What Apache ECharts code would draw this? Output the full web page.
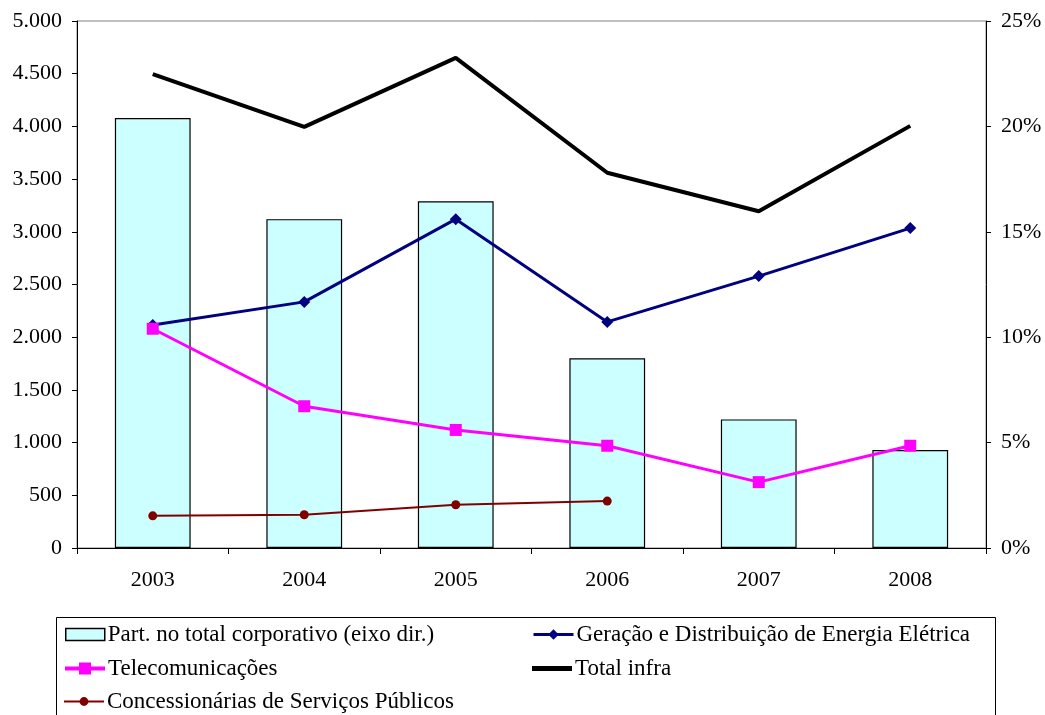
<!DOCTYPE html>
<html>
<head>
<meta charset="utf-8">
<script src="https://cdn.jsdelivr.net/npm/echarts@6/dist/echarts.min.js"></script>
<style>
  html, body { margin: 0; padding: 0; background: #fff; }
  #chart { width: 1045px; height: 715px; }
</style>
</head>
<body>
<div id="chart"></div>
<script>
// dados
var anos = ['2003', '2004', '2005', '2006', '2007', '2008'];
var partTotal = [20.4, 15.6, 16.45, 9.0, 6.1, 4.65];      // % eixo dir.
var geracao = [2115, 2335, 3120, 2145, 2580, 3035];
var telecom = [2080, 1345, 1120, 970, 625, 970];
var totalInfra = [4495, 3995, 4650, 3560, 3195, 4005];
var concessionarias = [305, 315, 410, 445, null, null];

var fonte = 'Liberation Serif';

function milhar(v) {
  return String(v).replace(/\B(?=(\d{3})+(?!\d))/g, '.');
}

var myChart = echarts.init(document.getElementById('chart'));

// cada item da legenda em posição fixa
function itemLegenda(nome, left, top, extra) {
  var l = {
    data: [nome],
    left: left,
    top: top,
    orient: 'horizontal',
    itemWidth: 40,
    itemHeight: 12,
    itemGap: 0,
    padding: 0,
    selectedMode: false,
    textStyle: { fontFamily: fonte, fontSize: 23, color: '#000', padding: [0, 0, 0, -2], lineHeight: 22 }
  };
  for (var k in extra) l[k] = extra[k];
  return l;
}

var option = {
  animation: false,
  backgroundColor: '#fff',
  grid: {
    left: 77, right: 59, top: 21, bottom: 167,
    show: true, borderColor: '#808080', borderWidth: 1
  },
  legend: [
    itemLegenda('Part. no total corporativo (eixo dir.)', 65, 623, {
      icon: 'rect', itemWidth: 39, itemHeight: 12,
      itemStyle: { color: '#ccffff', borderColor: '#000', borderWidth: 1.5 }
    }),
    itemLegenda('Telecomunicações', 63, 657, { itemHeight: 15, lineStyle: { width: 4 } }),
    itemLegenda('Concessionárias de Serviços Públicos', 63, 690, { itemHeight: 11, lineStyle: { width: 2 } }),
    itemLegenda('Geração e Distribuição de Energia Elétrica', 532, 623, { itemHeight: 13, lineStyle: { width: 3 } }),
    itemLegenda('Total infra', 532, 657, {
      icon: 'rect', itemHeight: 5,
      itemStyle: { color: '#000', borderWidth: 0 }
    })
  ],
  graphic: [{
    type: 'rect',
    shape: { x: 56.5, y: 617.5, width: 939, height: 120 },
    style: { fill: 'none', stroke: '#000', lineWidth: 1 },
    z: -1
  }],
  xAxis: {
    type: 'category',
    data: anos,
    boundaryGap: true,
    axisLine: { lineStyle: { color: '#000', width: 1 } },
    axisTick: { show: true, length: 6, lineStyle: { color: '#000' } },
    axisLabel: { color: '#000', fontFamily: fonte, fontSize: 22, margin: 21 }
  },
  yAxis: [
    {
      type: 'value',
      min: 0, max: 5000, interval: 500,
      axisLine: { show: true, lineStyle: { color: '#000' } },
      axisTick: { show: true, length: 5, lineStyle: { color: '#000' } },
      splitLine: { show: false },
      axisLabel: {
        color: '#000', fontFamily: fonte, fontSize: 22, margin: 15,
        formatter: function (v) { return milhar(v); }
      }
    },
    {
      type: 'value',
      min: 0, max: 25, interval: 5,
      position: 'right',
      axisLine: { show: true, lineStyle: { color: '#000' } },
      axisTick: { show: true, length: 5, lineStyle: { color: '#000' } },
      splitLine: { show: false },
      axisLabel: { color: '#000', fontFamily: fonte, fontSize: 22, margin: 15, formatter: '{value}%' }
    }
  ],
  series: [
    {
      name: 'Part. no total corporativo (eixo dir.)',
      type: 'bar',
      yAxisIndex: 1,
      barWidth: '50%',
      data: partTotal,
      itemStyle: { color: '#ccffff', borderColor: '#000', borderWidth: 1.2 }
    },
    {
      name: 'Geração e Distribuição de Energia Elétrica',
      type: 'line',
      data: geracao,
      symbol: 'diamond',
      symbolSize: 12,
      lineStyle: { color: '#000080', width: 3 },
      itemStyle: { color: '#000080' }
    },
    {
      name: 'Telecomunicações',
      type: 'line',
      data: telecom,
      symbol: 'rect',
      symbolSize: 12,
      lineStyle: { color: '#ff00ff', width: 3 },
      itemStyle: { color: '#ff00ff' }
    },
    {
      name: 'Total infra',
      type: 'line',
      data: totalInfra,
      symbol: 'none',
      lineStyle: { color: '#000', width: 4 },
      itemStyle: { color: '#000' }
    },
    {
      name: 'Concessionárias de Serviços Públicos',
      type: 'line',
      data: concessionarias,
      symbol: 'circle',
      symbolSize: 9,
      lineStyle: { color: '#800000', width: 2 },
      itemStyle: { color: '#800000' }
    }
  ]
};

myChart.setOption(option);
window.addEventListener('resize', function () {
  myChart.resize();
});
</script>
</body>
</html>
